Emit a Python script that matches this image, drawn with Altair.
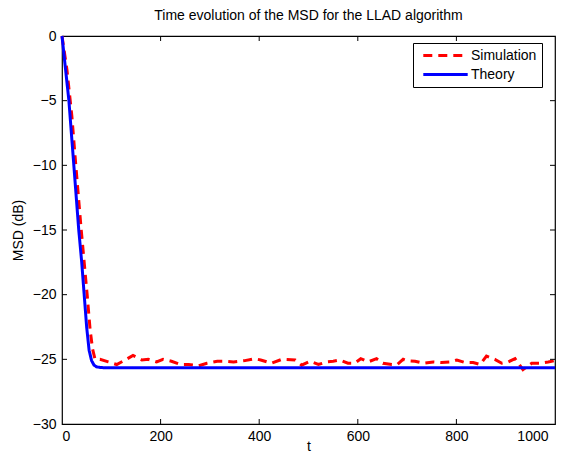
import altair as alt
import pandas as pd

# ---- data ----
sim_t = [0, 10, 20, 28, 39, 51, 57, 62, 67, 77, 94, 111, 128, 144, 162, 175, 192, 205, 222,
         240, 257, 277, 294, 315, 332, 348, 371, 391, 403, 425, 446, 473, 486, 503, 520,
         537, 550, 564, 580, 594, 606, 621, 638, 651, 669, 680, 692, 699, 716, 733, 753,
         770, 787, 801, 818, 834, 848, 861, 878, 892, 905, 919, 935, 953, 970, 986, 1000]
sim_v = [0, -2.6, -6.2, -10, -15, -20, -22.7, -24.2, -25.0, -25.0, -25.2, -25.4, -25.05,
         -24.7, -25.05, -25.0, -25.2, -25.0, -25.15, -25.4, -25.4, -25.5, -25.3, -25.15,
         -25.15, -25.2, -25.1, -24.95, -25.05, -25.3, -25.0, -25.05, -25.45, -25.15, -25.4,
         -25.2, -25.15, -25.05, -25.3, -25.3, -24.95, -25.2, -24.95, -25.3, -25.4, -25.4,
         -25.0, -25.1, -25.15, -25.3, -25.2, -25.25, -25.2, -25.05, -25.25, -25.25, -25.4,
         -24.75, -25.0, -25.3, -25.2, -24.95, -25.8, -25.3, -25.3, -25.2, -25.1]

th_t = [0, 7, 14, 19, 24, 29, 34, 40, 45, 50, 55, 60, 65, 70, 80, 100, 1000]
th_v = [0, -2.5, -5, -7.5, -10, -12.5, -15, -17.5, -20, -22.5, -24.3, -25.1, -25.45,
        -25.58, -25.64, -25.65, -25.65]

series_names = ["Simulation", "Theory"]
series_colors = ["#ff0000", "#0000ff"]

x_ticks = [0, 200, 400, 600, 800, 1000]
y_ticks = [-30, -25, -20, -15, -10, -5, 0]

W, H = 493, 388
FS = 14

df = pd.concat([
    pd.DataFrame({"t": sim_t, "msd": sim_v, "series": "Simulation"}),
    pd.DataFrame({"t": th_t, "msd": th_v, "series": "Theory"}),
], ignore_index=True)

xscale = alt.Scale(domain=[0, 1000], nice=False, zero=False)
yscale = alt.Scale(domain=[-30, 0], nice=False, zero=False)

font = "Liberation Sans"

leg = alt.Legend(
    title=None, orient="none", legendX=351, legendY=7,
    strokeColor="black", fillColor="white", padding=5,
    symbolType="M-3.7,0H3.7", symbolSize=144, symbolStrokeWidth=3,
    symbolOffset=20, labelOffset=18,
    labelFontSize=FS, labelFont=font, labelColor="black",
    rowPadding=4,
)

lines = alt.Chart(df).mark_line(strokeWidth=3).encode(
    x=alt.X("t:Q", scale=xscale,
            axis=alt.Axis(values=x_ticks, title="t", grid=False, ticks=False, domain=False,
                          format="d", labelPadding=5, titleY=15, titleBaseline="top",
                          labelOffset={"condition": {"test": "datum.value == 1000", "value": -7}, "value": 0},
                          labelFontSize=FS, titleFontSize=FS, labelFont=font, titleFont=font,
                          labelColor="black", titleColor="black", titleFontWeight="normal")),
    y=alt.Y("msd:Q", scale=yscale,
            axis=alt.Axis(values=y_ticks, title="MSD (dB)", grid=False, ticks=False, domain=False,
                          format="d", labelPadding=6, titlePadding=7,
                          labelFontSize=FS, titleFontSize=FS, labelFont=font, titleFont=font,
                          labelColor="black", titleColor="black", titleFontWeight="normal")),
    color=alt.Color("series:N", scale=alt.Scale(domain=series_names, range=series_colors), legend=leg),
    strokeDash=alt.StrokeDash("series:N", scale=alt.Scale(domain=series_names, range=[[9, 6], [1, 0]]), legend=leg),
    order=alt.Order("t:Q"),
)

xt = pd.DataFrame({"t": x_ticks[1:-1]})
yt = pd.DataFrame({"msd": y_ticks[1:-1]})
TL = 5
tick_b = alt.Chart(xt).mark_rule(color="black", strokeWidth=1).encode(
    x=alt.X("t:Q", scale=xscale), y=alt.value(H), y2=alt.value(H - TL))
tick_t = alt.Chart(xt).mark_rule(color="black", strokeWidth=1).encode(
    x=alt.X("t:Q", scale=xscale), y=alt.value(0), y2=alt.value(TL))
tick_l = alt.Chart(yt).mark_rule(color="black", strokeWidth=1).encode(
    y=alt.Y("msd:Q", scale=yscale), x=alt.value(0), x2=alt.value(TL))
tick_r = alt.Chart(yt).mark_rule(color="black", strokeWidth=1).encode(
    y=alt.Y("msd:Q", scale=yscale), x=alt.value(W), x2=alt.value(W - TL))

chart = alt.layer(lines, tick_b, tick_t, tick_l, tick_r).properties(
    width=W, height=H,
    title=alt.Title("Time evolution of the MSD for the LLAD algorithm", fontSize=FS,
                    fontWeight="normal", font=font, color="black", offset=6),
    autosize=alt.AutoSizeParams(type="none"),
    padding={"left": 54, "top": 28, "right": 9, "bottom": 30},
    background="white",
).configure_view(
    stroke="black", strokeWidth=1.2
)

chart.save("out.html", embed_options={"renderer": "svg", "actions": False})
